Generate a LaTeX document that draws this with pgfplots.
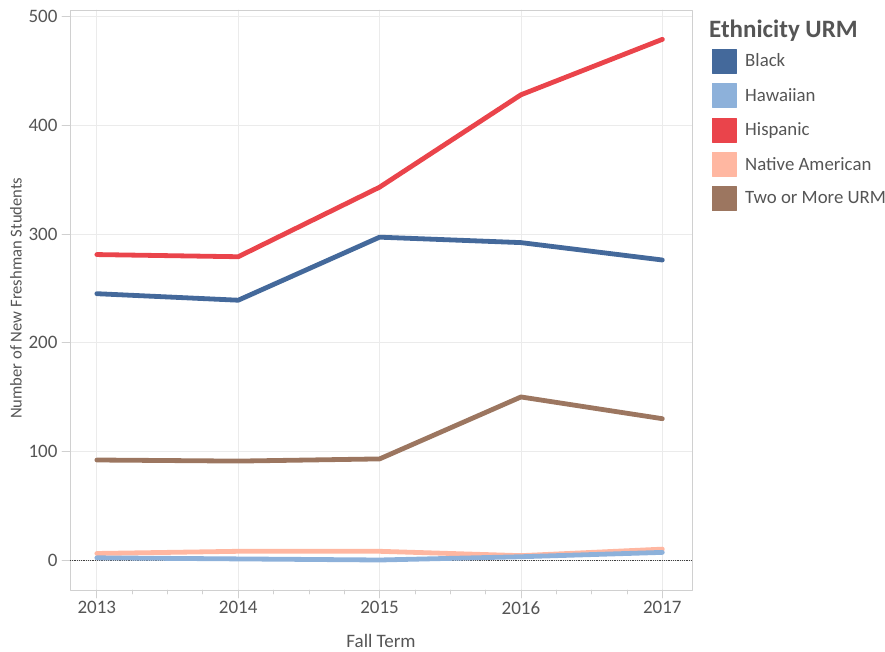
\documentclass[border=0pt]{standalone}
\usepackage{fontspec}
\setmainfont{Carlito}
\usepackage{pgfplots}
\pgfplotsset{compat=1.18}
\definecolor{cBlack}{HTML}{44699B}
\definecolor{cHaw}{HTML}{8DB1DA}
\definecolor{cHisp}{HTML}{EA444B}
\definecolor{cNat}{HTML}{FFB7A1}
\definecolor{cTwo}{HTML}{9C7660}
\definecolor{txt}{HTML}{555555}
\definecolor{gridc}{HTML}{EBEBEB}
\definecolor{framec}{HTML}{D0D0D0}
\begin{document}
\begin{tikzpicture}[x=1pt,y=1pt]
\path[use as bounding box] (-70,-61) rectangle (815,590);
\begin{axis}[at={(0,0)}, anchor=south west, scale only axis,
  width=622pt, height=580pt,
  xmin=2012.81, xmax=2017.21, ymin=-27.6, ymax=506,
  xtick={2013,2014,2015,2016,2017}, minor x tick num=3,
  ytick={0,100,200,300,400,500},
  tick pos=left, tick align=outside,
  major tick length=8pt, minor tick length=4pt,
  every tick/.style={framec, line width=0.8pt},
  grid=major, major grid style={gridc, line width=0.8pt},
  axis line style={framec, line width=0.8pt},
  /pgf/number format/assume math mode=true,
  /pgf/number format/1000 sep={},
  tick label style={font=\fontsize{19}{22}\selectfont, text=txt},
  yticklabel style={xshift=-1pt},
  xlabel={Fall Term}, ylabel={Number of New Freshman Students},
  xlabel style={font=\fontsize{19}{22}\selectfont, text=txt, at={(axis description cs:0.5,-0.0875)}, anchor=center},
  ylabel style={font=\fontsize{16.6}{19}\selectfont, text=txt, at={(axis description cs:-0.0870,0.503)}, anchor=center},
  legend cell align=left,
  legend style={at={(axis description cs:1.0322,0.933)}, anchor=north west,
    draw=none, fill=none, inner sep=0pt, outer sep=0pt, row sep=10pt,
    font=\fontsize{18.8}{22}\selectfont, text=txt,
    nodes={inner sep=0pt, outer sep=0pt}},
  line join=round, line cap=round,
]
\addlegendimage{legend image code/.code={\fill[cBlack] (0pt,-12pt) rectangle (24pt,12pt); \path[draw=none,fill=none] (0pt,-12pt) rectangle (33pt,12pt);}}
\addlegendimage{legend image code/.code={\fill[cHaw] (0pt,-12pt) rectangle (24pt,12pt); \path[draw=none,fill=none] (0pt,-12pt) rectangle (33pt,12pt);}}
\addlegendimage{legend image code/.code={\fill[cHisp] (0pt,-12pt) rectangle (24pt,12pt); \path[draw=none,fill=none] (0pt,-12pt) rectangle (33pt,12pt);}}
\addlegendimage{legend image code/.code={\fill[cNat] (0pt,-12pt) rectangle (24pt,12pt); \path[draw=none,fill=none] (0pt,-12pt) rectangle (33pt,12pt);}}
\addlegendimage{legend image code/.code={\fill[cTwo] (0pt,-12pt) rectangle (24pt,12pt); \path[draw=none,fill=none] (0pt,-12pt) rectangle (33pt,12pt);}}
\addplot[forget plot, densely dotted, black!75, line width=0.8pt, line cap=butt] coordinates {(2012.81,0) (2017.21,0)};
\addplot[forget plot, cNat, line width=4.8pt] coordinates {(2013,6) (2014,8) (2015,8) (2016,4) (2017,10)};
\addplot[forget plot, cHaw, line width=4.8pt] coordinates {(2013,2) (2014,1) (2015,0) (2016,3) (2017,7)};
\addplot[forget plot, cTwo, line width=4.8pt] coordinates {(2013,92) (2014,91) (2015,93) (2016,150) (2017,130)};
\addplot[forget plot, cBlack, line width=4.8pt] coordinates {(2013,245) (2014,239) (2015,297) (2016,292) (2017,276)};
\addplot[forget plot, cHisp, line width=4.8pt] coordinates {(2013,281) (2014,279) (2015,343) (2016,428) (2017,479)};
\legend{Black, Hawaiian, Hispanic, Native American, Two or More URM}
\end{axis}
\node[anchor=base west, inner sep=0pt, text=txt, font=\fontsize{25}{28}\selectfont\bfseries] at (639,552) {Ethnicity URM};
\end{tikzpicture}
\end{document}
